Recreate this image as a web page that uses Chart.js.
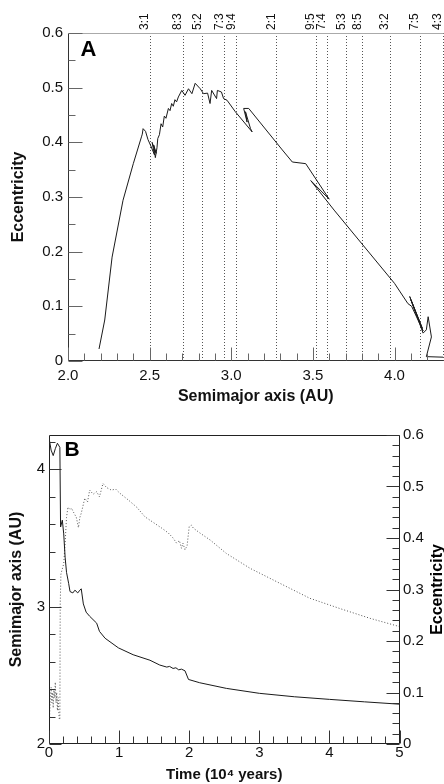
<!DOCTYPE html>
<html>
<head>
<meta charset="utf-8">
<title>Asteroid migration through resonances</title>
<script src="https://cdn.jsdelivr.net/npm/chart.js@4.4.1/dist/chart.umd.min.js"></script>
<style>
  html, body { margin: 0; padding: 0; background: #fff; }
  body { width: 444px; height: 784px; position: relative; overflow: hidden; }
  canvas { position: absolute; left: 0; }
  #chartA { top: 0; }
  #chartB { top: 420px; }
</style>
</head>
<body>
<canvas id="chartA" width="444" height="410"></canvas>
<canvas id="chartB" width="444" height="364"></canvas>
<script>
// Panel A: eccentricity vs semimajor axis (path in time order, starting near 4.3 AU)
const semimajorA = [4.298, 4.195, 4.226, 4.206, 4.195, 4.175, 4.093, 4.17, 4.10, 4.175, 4.105, 4.082, 4.00,
  3.63, 3.487, 3.60, 3.456, 3.374, 3.313, 3.107, 3.076, 3.097, 3.087, 3.118, 3.128, 3.025, 2.974, 2.953,
  2.94, 2.915, 2.91, 2.88, 2.87, 2.855, 2.83, 2.81, 2.779, 2.759, 2.738, 2.717, 2.697, 2.676, 2.665, 2.655,
  2.645, 2.635, 2.625, 2.615, 2.60, 2.59, 2.58, 2.57, 2.56, 2.55, 2.545, 2.535, 2.525, 2.54, 2.515, 2.53,
  2.505, 2.49, 2.475, 2.46, 2.455, 2.45, 2.40, 2.337, 2.27, 2.225, 2.19];
const eccA = [0.007, 0.008, 0.044, 0.081, 0.057, 0.051, 0.118, 0.06, 0.112, 0.055, 0.10, 0.105, 0.142,
  0.276, 0.33, 0.296, 0.361, 0.364, 0.386, 0.462, 0.462, 0.437, 0.456, 0.425, 0.419, 0.456, 0.477, 0.48,
  0.492, 0.495, 0.48, 0.495, 0.471, 0.49, 0.489, 0.498, 0.508, 0.489, 0.498, 0.486, 0.495, 0.483, 0.474, 0.478,
  0.466, 0.471, 0.458, 0.462, 0.444, 0.448, 0.428, 0.434, 0.414, 0.407, 0.39, 0.372, 0.395, 0.38, 0.40, 0.377,
  0.395, 0.405, 0.42, 0.425, 0.415, 0.41, 0.361, 0.294, 0.19, 0.075, 0.022];

const resonanceLabels = ['3:1', '8:3', '5:2', '7:3', '9:4', '2:1', '9:5', '7:4', '5:3', '8:5', '3:2', '7:5', '4:3'];
const resonanceAU = [2.50, 2.703, 2.822, 2.956, 3.03, 3.276, 3.516, 3.584, 3.704, 3.801, 3.972, 4.156, 4.295];

// Panel B: semimajor axis and eccentricity vs time (10^4 years)
const timeSemi = [0, 0.03, 0.06, 0.09, 0.12, 0.155, 0.165, 0.19, 0.21, 0.23, 0.25, 0.28, 0.30, 0.34, 0.37,
  0.41, 0.44, 0.46, 0.49, 0.53, 0.58, 0.68, 0.72, 0.80, 0.99, 1.20, 1.44, 1.58, 1.68, 1.72, 1.77, 1.81, 1.85,
  1.89, 1.94, 1.99, 2.15, 2.53, 3.0, 3.5, 4.0, 4.5, 5.0];
const semiB = [4.23, 4.14, 4.10, 4.15, 4.19, 4.16, 3.58, 3.63, 3.53, 3.36, 3.25, 3.17, 3.11, 3.10, 3.12,
  3.10, 3.12, 3.13, 3.02, 2.96, 2.93, 2.88, 2.82, 2.77, 2.70, 2.65, 2.61, 2.575, 2.56, 2.565, 2.55, 2.555, 2.54,
  2.545, 2.533, 2.47, 2.446, 2.405, 2.369, 2.344, 2.325, 2.307, 2.29];

const timeEcc = [0, 0.01, 0.02, 0.03, 0.04, 0.05, 0.06, 0.07, 0.08, 0.09, 0.10, 0.11, 0.12, 0.13, 0.145,
  0.155, 0.16, 0.17, 0.19, 0.21, 0.23, 0.25, 0.27, 0.30, 0.32, 0.35, 0.39, 0.42, 0.44, 0.46, 0.51, 0.55, 0.58,
  0.63, 0.68, 0.72, 0.77, 0.82, 0.89, 0.95, 1.01, 1.13, 1.25, 1.37, 1.49, 1.61, 1.70, 1.77, 1.82, 1.86, 1.89,
  1.91, 1.94, 1.97, 2.0, 2.03, 2.06, 2.15, 2.30, 2.53, 2.87, 3.25, 3.72, 4.15, 4.58, 5.0];
const eccB = [0.005, 0.06, 0.09, 0.11, 0.08, 0.10, 0.07, 0.105, 0.09, 0.12, 0.08, 0.10, 0.065, 0.09, 0.05,
  0.047, 0.27, 0.33, 0.34, 0.35, 0.39, 0.44, 0.46, 0.455, 0.458, 0.45, 0.44, 0.42, 0.44, 0.448, 0.477, 0.47, 0.493,
  0.485, 0.49, 0.48, 0.506, 0.498, 0.493, 0.495, 0.487, 0.474, 0.46, 0.441, 0.43, 0.419, 0.41, 0.40, 0.39, 0.395, 0.38,
  0.39, 0.377, 0.385, 0.422, 0.425, 0.419, 0.41, 0.396, 0.37, 0.341, 0.315, 0.283, 0.263, 0.244, 0.228];

const FONT = '"Liberation Sans", Arial, Helvetica, sans-serif';
Chart.defaults.font.family = FONT;
Chart.defaults.color = '#111';

const toPoints = (xs, ys) => xs.map((x, i) => ({ x: x, y: ys[i] }));
const fmt1 = v => (v === 0 ? '0' : v.toFixed(1));

// frame, inward ticks, resonance lines and panel letters
const paperPlugin = {
  id: 'paper',
  beforeDatasetsDraw(chart, args, opts) {
    const ctx = chart.ctx, area = chart.chartArea;
    if (!opts.resonances) return;
    const xs = chart.scales.x;
    ctx.save();
    ctx.strokeStyle = '#555';
    ctx.lineWidth = 1;
    ctx.setLineDash([1, 2]);
    opts.resonances.values.forEach(v => {
      const px = Math.round(xs.getPixelForValue(v)) + 0.5;
      ctx.beginPath();
      ctx.moveTo(px, area.top);
      ctx.lineTo(px, area.bottom);
      ctx.stroke();
    });
    ctx.setLineDash([]);
    ctx.fillStyle = '#111';
    ctx.font = '12px ' + FONT;
    opts.resonances.labels.forEach((t, i) => {
      const px = xs.getPixelForValue(opts.resonances.values[i]);
      ctx.save();
      ctx.translate(px - 1.5, area.top - 3);
      ctx.rotate(-Math.PI / 2);
      ctx.textAlign = 'left';
      ctx.textBaseline = 'alphabetic';
      ctx.fillText(t, 0, 0);
      ctx.restore();
    });
    ctx.restore();
  },
  afterDatasetsDraw(chart, args, opts) {
    const ctx = chart.ctx, area = chart.chartArea;
    ctx.save();
    ctx.lineWidth = 1;
    // frame
    const L = Math.round(area.left) + 0.5, R = Math.round(area.right) - 0.5;
    const T = Math.round(area.top) + 0.5, B = Math.round(area.bottom) - 0.5;
    const edges = { left: [L, T, L, B], right: [R, T, R, B], top: [L, T, R, T], bottom: [L, B, R, B] };
    Object.keys(opts.frame).forEach(side => {
      const e = edges[side];
      ctx.strokeStyle = opts.frame[side];
      ctx.beginPath();
      ctx.moveTo(e[0], e[1]);
      ctx.lineTo(e[2], e[3]);
      ctx.stroke();
    });
    // ticks pointing into the plot
    ctx.strokeStyle = opts.tickColor;
    opts.ticks.forEach(ax => {
      const s = chart.scales[ax.id];
      const n = Math.round((s.max - s.min) / ax.minor);
      for (let i = 0; i <= n; i++) {
        const v = s.min + i * ax.minor;
        const r = v / ax.major;
        const len = Math.abs(r - Math.round(r)) < 1e-6 ? ax.majorLen : ax.minorLen;
        const p = Math.round(s.getPixelForValue(v)) + 0.5;
        ctx.beginPath();
        if (ax.side === 'bottom') { ctx.moveTo(p, B); ctx.lineTo(p, B - len); }
        if (ax.side === 'left') { ctx.moveTo(L, p); ctx.lineTo(L + len, p); }
        if (ax.side === 'right') { ctx.moveTo(R, p); ctx.lineTo(R - len, p); }
        ctx.stroke();
      }
    });
    // panel letter and extra titles
    ctx.fillStyle = '#000';
    ctx.textAlign = 'center';
    ctx.textBaseline = 'middle';
    ctx.font = 'bold ' + opts.letter.size + 'px ' + FONT;
    ctx.fillText(opts.letter.text, area.left + opts.letter.dx, area.top + opts.letter.dy);
    if (opts.rightTitle) {
      ctx.save();
      ctx.font = 'bold 16px ' + FONT;
      ctx.translate(opts.rightTitle.x, (area.top + area.bottom) / 2);
      ctx.rotate(-Math.PI / 2);
      ctx.fillText(opts.rightTitle.text, 0, 0);
      ctx.restore();
    }
    ctx.restore();
  }
};

new Chart(document.getElementById('chartA'), {
  type: 'line',
  data: {
    datasets: [{
      data: toPoints(semimajorA, eccA),
      borderColor: '#1a1a1a',
      borderWidth: 1,
      pointRadius: 0,
      tension: 0,
      fill: false
    }]
  },
  options: {
    responsive: false,
    animation: false,
    events: [],
    layout: { padding: { top: 33, right: 0.5, left: 0, bottom: 0 } },
    plugins: {
      legend: { display: false },
      tooltip: { enabled: false },
      paper: {
        resonances: { labels: resonanceLabels, values: resonanceAU },
        frame: { left: '#333', bottom: '#333', top: '#aaa' },
        tickColor: '#666',
        ticks: [
          { id: 'x', side: 'bottom', major: 0.5, minor: 0.1, majorLen: 13, minorLen: 7 },
          { id: 'y', side: 'left', major: 0.1, minor: 0.05, majorLen: 14, minorLen: 7 }
        ],
        letter: { text: 'A', size: 22, dx: 20.5, dy: 17 }
      }
    },
    scales: {
      x: {
        type: 'linear', min: 2.0, max: 4.3,
        afterFit: s => { s.height = 49; },
        grid: { display: false, drawTicks: false }, border: { display: false },
        ticks: { stepSize: 0.5, includeBounds: false, padding: 6, maxRotation: 0, font: { size: 15 }, callback: v => v.toFixed(1) },
        title: { display: true, text: 'Semimajor axis (AU)', font: { size: 16, weight: 'bold' }, padding: { top: 0, bottom: 4 } }
      },
      y: {
        type: 'linear', min: 0, max: 0.6,
        afterFit: s => { s.width = 68; },
        grid: { display: false, drawTicks: false }, border: { display: false },
        ticks: { stepSize: 0.1, padding: 5, font: { size: 15 }, callback: fmt1 },
        title: { display: true, text: 'Eccentricity', font: { size: 16, weight: 'bold' }, padding: { top: 9, bottom: 0 } }
      }
    }
  },
  plugins: [paperPlugin]
});

new Chart(document.getElementById('chartB'), {
  type: 'line',
  data: {
    datasets: [{
      label: 'Semimajor axis',
      data: toPoints(timeSemi, semiB),
      yAxisID: 'a',
      borderColor: '#1a1a1a',
      borderWidth: 1,
      pointRadius: 0,
      tension: 0
    }, {
      label: 'Eccentricity',
      data: toPoints(timeEcc, eccB),
      yAxisID: 'e',
      borderColor: '#555',
      borderWidth: 1,
      borderDash: [1, 2],
      pointRadius: 0,
      tension: 0
    }]
  },
  options: {
    responsive: false,
    animation: false,
    events: [],
    layout: { padding: { top: 15, right: 0, left: 0, bottom: 0 } },
    plugins: {
      legend: { display: false },
      tooltip: { enabled: false },
      paper: {
        frame: { left: '#222', bottom: '#222', top: '#222', right: '#222' },
        tickColor: '#333',
        ticks: [
          { id: 'x', side: 'bottom', major: 1, minor: 0.2, majorLen: 13, minorLen: 7 },
          { id: 'a', side: 'left', major: 1, minor: 0.2, majorLen: 12, minorLen: 6 },
          { id: 'e', side: 'right', major: 0.1, minor: 0.02, majorLen: 13, minorLen: 7 }
        ],
        letter: { text: 'B', size: 21, dx: 23, dy: 15.5 },
        rightTitle: { text: 'Eccentricity', x: 437.5 }
      }
    },
    scales: {
      x: {
        type: 'linear', min: 0, max: 5,
        afterFit: s => { s.height = 40; },
        grid: { display: false, drawTicks: false }, border: { display: false },
        ticks: { stepSize: 1, padding: 0, maxRotation: 0, font: { size: 15 } },
        title: { display: true, text: 'Time (10⁴ years)', font: { size: 15, weight: 'bold' }, padding: { top: 0, bottom: 0 } }
      },
      a: {
        type: 'linear', position: 'left', min: 2, max: 4.25,
        afterFit: s => { s.width = 49; },
        grid: { display: false, drawTicks: false }, border: { display: false },
        ticks: { stepSize: 1, includeBounds: false, padding: 4, font: { size: 15 } },
        title: { display: true, text: 'Semimajor axis (AU)', font: { size: 16, weight: 'bold' }, padding: { top: 7, bottom: 0 } }
      },
      e: {
        type: 'linear', position: 'right', min: 0, max: 0.6,
        afterFit: s => { s.width = 44.5; },
        grid: { display: false, drawTicks: false }, border: { display: false },
        ticks: { stepSize: 0.1, padding: 3.5, font: { size: 15 }, callback: fmt1 }
      }
    }
  },
  plugins: [paperPlugin]
});
</script>
</body>
</html>
